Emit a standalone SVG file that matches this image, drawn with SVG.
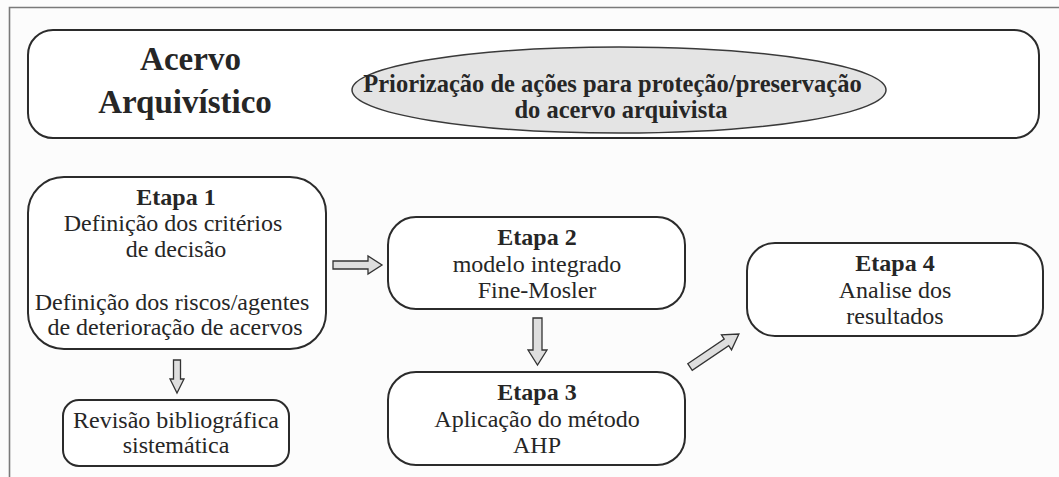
<svg xmlns="http://www.w3.org/2000/svg" width="1059" height="477" viewBox="0 0 1059 477">
<style>
.box{fill:#ffffff;stroke:#2b2b2b;stroke-width:2}
.arr{fill:#dedede;stroke:#333333;stroke-width:1.3;stroke-linejoin:miter}
.t{font-family:"Liberation Serif","Times New Roman",serif;font-size:24px;fill:#262626;text-anchor:middle}
.b{font-weight:bold}
.e{font-size:24.5px}
.title{font-family:"Liberation Serif","Times New Roman",serif;font-size:33px;font-weight:bold;fill:#262626;text-anchor:middle}
</style>
<rect x="0" y="0" width="1059" height="477" fill="#fcfcfc"/>
<path d="M9.5,477 V7.5 H1059" fill="none" stroke="#7a7a7a" stroke-width="1.6"/>
<g id="header">
<rect class="box" x="28" y="30" width="1011" height="108" rx="25" ry="25"/>
<text class="title" x="190.5" y="70">Acervo</text>
<text class="title" x="185" y="113">Arquivístico</text>
</g>
<g id="goal">
<ellipse cx="619" cy="90" rx="267" ry="43" fill="#e4e4e4" stroke="#3a3a3a" stroke-width="1.5"/>
<text class="t b e" x="612.5" y="92">Priorização de ações para proteção/preservação</text>
<text class="t b e" x="621" y="118">do acervo arquivista</text>
</g>
<g id="etapa1">
<rect class="box" x="28" y="177" width="298" height="172" rx="36" ry="36"/>
<text class="t b" x="176" y="205">Etapa 1</text>
<text class="t" x="173" y="231">Definição dos critérios</text>
<text class="t" x="176" y="257">de decisão</text>
<text class="t" x="172" y="310">Definição dos riscos/agentes</text>
<text class="t" x="175" y="335">de deterioração de acervos</text>
</g>
<g id="revisao">
<rect class="box" x="63" y="400" width="226" height="66" rx="16" ry="16"/>
<text class="t" x="176" y="428">Revisão bibliográfica</text>
<text class="t" x="176" y="453">sistemática</text>
</g>
<g id="etapa2">
<rect class="box" x="388" y="217" width="297" height="92" rx="28" ry="28"/>
<text class="t b" x="537" y="245">Etapa 2</text>
<text class="t" x="537" y="272">modelo integrado</text>
<text class="t" x="537" y="298">Fine-Mosler</text>
</g>
<g id="etapa3">
<rect class="box" x="388" y="372" width="297" height="93" rx="28" ry="28"/>
<text class="t b" x="537" y="400">Etapa 3</text>
<text class="t" x="537" y="427">Aplicação do método</text>
<text class="t" x="537" y="453">AHP</text>
</g>
<g id="etapa4">
<rect class="box" x="747" y="243" width="296" height="93" rx="28" ry="28"/>
<text class="t b" x="895" y="271">Etapa 4</text>
<text class="t" x="895" y="298">Analise dos</text>
<text class="t" x="895" y="324">resultados</text>
</g>
<g id="connectors">
<path class="arr" d="M333,261 H368 V256 L382,265 L368,274 V269 H333 Z"/>
<path class="arr" d="M173.5,360 V379 H170 L177,393 L184,379 H180.5 V360 Z"/>
<path class="arr" d="M533,318 V350 H528 L537.5,365 L547,350 H542 V318 Z"/>
<path class="arr" transform="translate(690,367) rotate(-34)" d="M0,-4 H44 V-9 L59,0 L44,9 V4 H0 Z"/>
</g>
</svg>
